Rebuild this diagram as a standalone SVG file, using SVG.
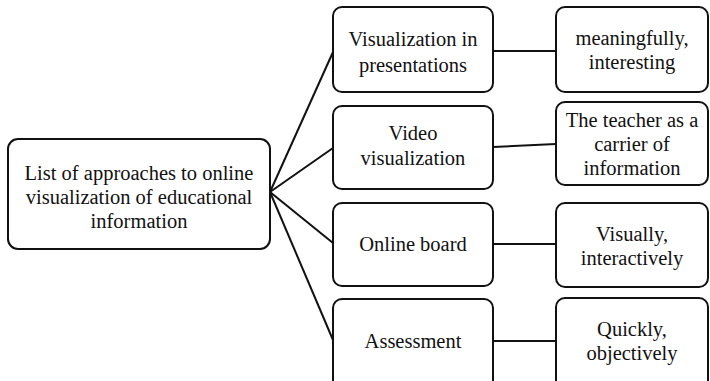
<svg xmlns="http://www.w3.org/2000/svg" width="710" height="381" viewBox="0 0 710 381">
<style>
.box{fill:#fff;stroke:#111;stroke-width:2}
.lbl{font-family:'Liberation Serif','Times New Roman','DejaVu Serif',serif;font-size:20.5px;fill:#111;text-anchor:middle}
.con{stroke:#111;stroke-width:2;fill:none}
</style>
<rect width="710" height="381" fill="#fff"/>
<g id="connectors">
<line class="con" x1="270" y1="192" x2="333" y2="52"/>
<line class="con" x1="270" y1="192" x2="333" y2="148"/>
<line class="con" x1="270" y1="192" x2="333" y2="243"/>
<line class="con" x1="270" y1="192" x2="333" y2="340"/>
<line class="con" x1="493" y1="51" x2="556" y2="51"/>
<line class="con" x1="493" y1="147" x2="556" y2="144"/>
<line class="con" x1="493" y1="244" x2="556" y2="244"/>
<line class="con" x1="493" y1="341" x2="556" y2="341"/>
</g>
<g id="root">
<rect class="box" x="8" y="139" width="262" height="110" rx="10"/>
<text class="lbl" x="139" y="180">List of approaches to online</text>
<text class="lbl" x="139" y="204">visualization of educational</text>
<text class="lbl" x="139" y="228">information</text>
</g>
<g id="m1">
<rect class="box" x="333" y="7" width="160" height="85" rx="9"/>
<text class="lbl" x="413" y="46">Visualization in</text>
<text class="lbl" x="413" y="72">presentations</text>
</g>
<g id="m2">
<rect class="box" x="333" y="106" width="160" height="83" rx="9"/>
<text class="lbl" x="413" y="140">Video</text>
<text class="lbl" x="413" y="165">visualization</text>
</g>
<g id="m3">
<rect class="box" x="333" y="203" width="160" height="83" rx="9"/>
<text class="lbl" x="413" y="251">Online board</text>
</g>
<g id="m4">
<rect class="box" x="333" y="299" width="160" height="90" rx="9"/>
<text class="lbl" x="413" y="348">Assessment</text>
</g>
<g id="r1">
<rect class="box" x="556" y="7" width="152" height="85" rx="9"/>
<text class="lbl" x="632" y="45">meaningfully,</text>
<text class="lbl" x="632" y="69">interesting</text>
</g>
<g id="r2">
<rect class="box" x="556" y="102" width="152" height="83" rx="9"/>
<text class="lbl" x="632" y="127">The teacher as a</text>
<text class="lbl" x="632" y="151">carrier of</text>
<text class="lbl" x="632" y="175">information</text>
</g>
<g id="r3">
<rect class="box" x="556" y="203" width="152" height="84" rx="9"/>
<text class="lbl" x="632" y="241">Visually,</text>
<text class="lbl" x="632" y="265">interactively</text>
</g>
<g id="r4">
<rect class="box" x="556" y="298" width="152" height="91" rx="9"/>
<text class="lbl" x="632" y="336">Quickly,</text>
<text class="lbl" x="632" y="360">objectively</text>
</g>
</svg>
